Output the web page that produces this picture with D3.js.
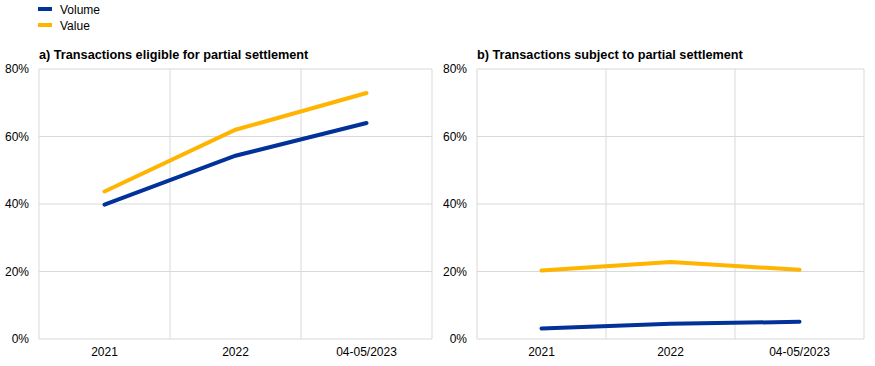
<!DOCTYPE html>
<html>
<head>
<meta charset="utf-8">
<script src="https://cdn.jsdelivr.net/npm/d3@7"></script>
<style>
  body { margin: 0; background: #fff; }
  text { font-family: "Liberation Sans", Arial, sans-serif; }
</style>
</head>
<body>
<div id="chart"></div>
<script>
// chart size
var chartWidth  = 875;
var chartHeight = 366;

// data
var categories   = ['2021', '2022', '04-05/2023'];
var yTicks       = [0, 20, 40, 60, 80];
var seriesNames  = ['Volume', 'Value'];
var seriesColors = ['#003299', '#ffb400'];
var panelTitles  = ['a) Transactions eligible for partial settlement',
                    'b) Transactions subject to partial settlement'];
var eligibleVolume = [39.8, 54.3, 64.0];
var eligibleValue  = [43.7, 62.0, 72.9];
var subjectVolume  = [3.1, 4.5, 5.1];
var subjectValue   = [20.3, 22.8, 20.5];

var panels = [
    { title: panelTitles[0], left: 39,  right: 432, series: [eligibleVolume, eligibleValue] },
    { title: panelTitles[1], left: 477, right: 864, series: [subjectVolume, subjectValue] }
];
var plotTop = 69, plotBottom = 339;

var svg = d3.select('#chart')
    .append('svg')
    .attr('width', chartWidth)
    .attr('height', chartHeight);

// legend
var legend = svg.selectAll('.legend')
    .data(seriesNames)
    .enter()
    .append('g')
    .attr('transform', function(d, i){ return 'translate(38,' + (9 + i * 16) + ')'; });
legend.append('rect')
    .attr('x', 0).attr('y', -2)
    .attr('width', 14).attr('height', 4)
    .attr('fill', function(d, i){ return seriesColors[i]; });
legend.append('text')
    .attr('x', 22).attr('y', 5)
    .style('font-size', '12px')
    .attr('fill', '#000')
    .text(function(d){ return d; });

var y = d3.scaleLinear().domain([0, 80]).range([plotBottom, plotTop]);

panels.forEach(function(p){
    var g = svg.append('g');
    var x = d3.scaleBand().domain(categories).range([p.left, p.right]);

    // horizontal grid
    g.selectAll('.hgrid')
        .data(yTicks)
        .enter()
        .append('line')
        .attr('x1', p.left).attr('x2', p.right)
        .attr('y1', function(d){ return y(d); })
        .attr('y2', function(d){ return y(d); })
        .attr('stroke', '#d9d9d9')
        .attr('stroke-width', 1);

    // vertical grid at band edges
    var edges = categories.map(function(c){ return x(c); }).concat([p.right]);
    g.selectAll('.vgrid')
        .data(edges)
        .enter()
        .append('line')
        .attr('x1', function(d){ return d; })
        .attr('x2', function(d){ return d; })
        .attr('y1', plotTop).attr('y2', plotBottom)
        .attr('stroke', '#d9d9d9')
        .attr('stroke-width', 1);

    // y axis labels
    var yAxis = d3.axisLeft(y)
        .tickValues(yTicks)
        .tickSize(0)
        .tickPadding(10)
        .tickFormat(function(d){ return d + '%'; });
    var ya = g.append('g')
        .attr('transform', 'translate(' + p.left + ',0)')
        .call(yAxis);
    ya.select('.domain').remove();
    ya.selectAll('text')
        .style('font-family', '"Liberation Sans", Arial, sans-serif')
        .style('font-size', '12px')
        .attr('fill', '#000');

    // x axis labels
    var xAxis = d3.axisBottom(x).tickSize(0).tickPadding(8);
    var xa = g.append('g')
        .attr('transform', 'translate(0,' + plotBottom + ')')
        .call(xAxis);
    xa.select('.domain').remove();
    xa.selectAll('text')
        .style('font-family', '"Liberation Sans", Arial, sans-serif')
        .style('font-size', '12px')
        .attr('fill', '#000');

    // title
    g.append('text')
        .attr('x', p.left)
        .attr('y', 59)
        .style('font-size', '12.7px')
        .style('font-weight', 'bold')
        .attr('fill', '#000')
        .text(p.title);

    // lines
    var line = d3.line()
        .x(function(d, i){ return x(categories[i]) + x.bandwidth() / 2; })
        .y(function(d){ return y(d); });
    g.selectAll('.series')
        .data(p.series)
        .enter()
        .append('path')
        .attr('d', line)
        .attr('fill', 'none')
        .attr('stroke', function(d, i){ return seriesColors[i]; })
        .attr('stroke-width', 4)
        .attr('stroke-linecap', 'round');
});
</script>
</body>
</html>
